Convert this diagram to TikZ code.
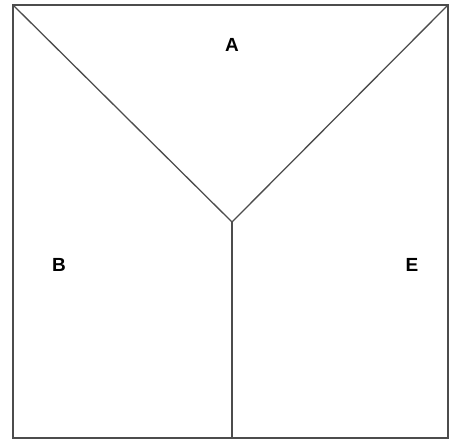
\documentclass[tikz,border=0pt]{standalone}
\usepackage{fontspec}
\setmainfont{Liberation Sans}
\usepackage{tikz}
\usepackage{xcolor}

\begin{document}
\begin{tikzpicture}[x=1pt, y=-1pt]
    \useasboundingbox (0,0) rectangle (455,439);

    % Outer square
    \coordinate (nw) at (13,5);
    \coordinate (ne) at (448,5);
    \coordinate (sw) at (13,438);
    \coordinate (se) at (448,438);
    \draw[black!70, line width=1.6pt] (nw) rectangle (se);

    % Meeting point of the three regions
    \coordinate (mid) at (232,222);
    \coordinate (bot) at (232,438);
    \draw[black!70, line width=1.3pt] (nw) -- (mid) -- (ne);
    \draw[black!70, line width=1.3pt] (mid) -- (bot);

    % Region labels
    \node[font=\fontsize{19}{19}\selectfont\bfseries] (A) at (232,45) {A};
    \node[font=\fontsize{19}{19}\selectfont\bfseries] (B) at (59,265) {B};
    \node[font=\fontsize{19}{19}\selectfont\bfseries] (E) at (412,265) {E};
\end{tikzpicture}
\end{document}
